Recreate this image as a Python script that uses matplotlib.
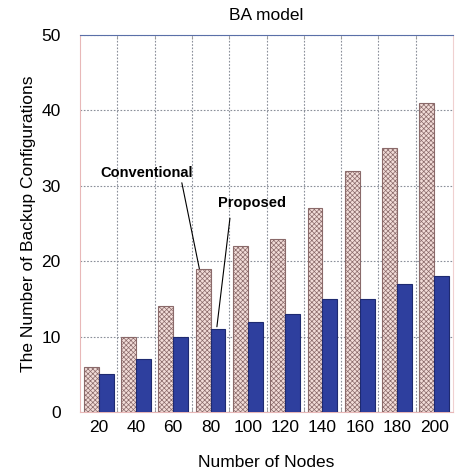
import matplotlib
matplotlib.use("Agg")
import matplotlib.pyplot as plt
import numpy as np

plt.rcParams['font.family'] = ['Liberation Sans', 'DejaVu Sans']
plt.rcParams['hatch.color'] = '#a07878'
plt.rcParams['hatch.linewidth'] = 0.5

nodes = ['20', '40', '60', '80', '100', '120', '140', '160', '180', '200']
conventional = [6, 10, 14, 19, 22, 23, 27, 32, 35, 41]
proposed = [5, 7, 10, 11, 12, 13, 15, 15, 17, 18]

fig = plt.figure(figsize=(4.55, 4.74), dpi=100)
ax = fig.add_axes([80/455, 62/474, 373/455, 377/474])

x = np.arange(1, len(nodes) + 1)
w = 0.4
ax.bar(x - w/2, conventional, w, facecolor='#f2dcd8', edgecolor='#8a6a6a',
       hatch='xxxxxxx', linewidth=0.8, zorder=3)
ax.bar(x + w/2, proposed, w, facecolor='#2e3f9e', edgecolor='#1e2a70',
       linewidth=0.8, zorder=3)

ax.set_xlim(0.5, len(nodes) + 0.5)
ax.set_ylim(0, 50)
ax.set_xticks(x)
ax.set_xticklabels(nodes, fontsize=12.5)
ax.set_xticks(np.arange(1.5, len(nodes) + 0.5), minor=True)
ax.set_yticks([0, 10, 20, 30, 40, 50])
ax.tick_params(axis='y', labelsize=12.5, length=0, pad=14)
ax.tick_params(axis='x', which='major', length=0, pad=6)
ax.tick_params(axis='x', which='minor', length=3, direction='in', top=True,
               color='#999999')
ax.grid(True, axis='y', which='major', linestyle=(0, (1.5, 1.5)), color='#8a8f99',
        linewidth=0.8, zorder=0)
ax.grid(True, axis='x', which='minor', linestyle=(0, (1.5, 1.5)), color='#8a8f99',
        linewidth=0.8, zorder=0)
ax.grid(False, axis='x', which='major')

ax.spines['top'].set_color('#5a6fa8')
ax.spines['left'].set_color('#e8b8b8')
ax.spines['bottom'].set_color('#e8b8b8')
ax.spines['right'].set_color('#f0d0d0')
for s in ax.spines.values():
    s.set_linewidth(0.8)

ax.set_title('BA model', fontsize=12.5, pad=11)
ax.set_xlabel('Number of Nodes', fontsize=12.5, labelpad=14)
ax.set_ylabel('The Number of Backup Configurations', fontsize=12.5, labelpad=4)

ax.text(2.28, 31.7, 'Conventional', fontsize=10.5, fontweight='bold',
        ha='center', va='center')
ax.annotate('', xy=(3.7, 19.0), xytext=(3.23, 30.4),
            arrowprops=dict(arrowstyle='-', color='black', lw=0.8,
                            shrinkA=0, shrinkB=0))
ax.text(5.11, 27.7, 'Proposed', fontsize=10.5, fontweight='bold',
        ha='center', va='center')
ax.annotate('', xy=(4.17, 11.3), xytext=(4.52, 25.7),
            arrowprops=dict(arrowstyle='-', color='black', lw=0.8,
                            shrinkA=0, shrinkB=0))

fig.savefig('out.png', dpi=100)
